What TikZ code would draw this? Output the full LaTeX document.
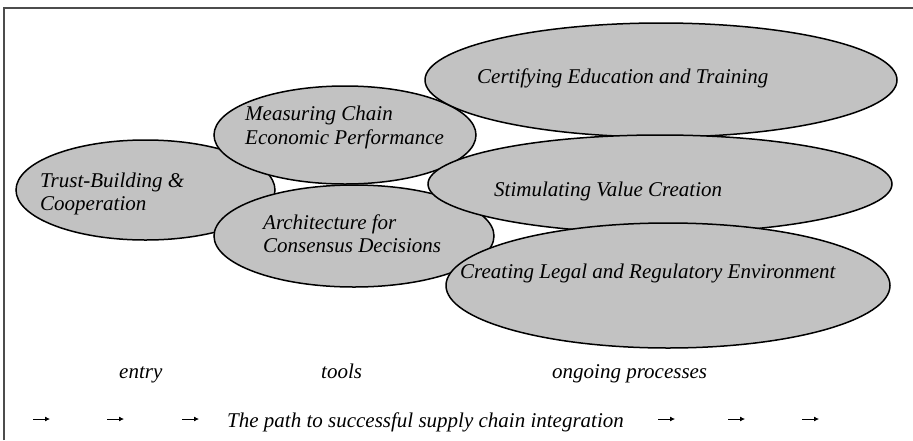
\documentclass[tikz,border=0pt]{standalone}
\usepackage{fontspec}
\setmainfont{Liberation Serif}
\usetikzlibrary{shapes.geometric,arrows.meta}
\begin{document}
\begin{tikzpicture}[x=1pt, y=-1pt,
        blob/.style={ellipse, draw=black, line width=1.5pt, fill=black!24, inner sep=0pt},
        lbl/.style={font=\fontsize{21}{23.5}\selectfont\itshape, inner sep=0pt, align=left}]
    \useasboundingbox (0,0) rectangle (913,440);
    \draw[black!70, line width=2pt] (3.5,440) -- (3.5,7.5) -- (913,7.5);
    \node[blob, minimum width=259pt, minimum height=100pt] (trust) at (145.5,190) {};
    \node[lbl, anchor=west] (trusttxt) at (40,193.8) {Trust-Building \&\\Cooperation};
    \node[blob, minimum width=262pt, minimum height=98pt] (measure) at (345,135) {};
    \node[lbl, anchor=west] (measuretxt) at (245,127.5) {Measuring Chain\\Economic Performance};
    \node[blob, minimum width=280pt, minimum height=102pt] (arch) at (354,236) {};
    \node[lbl, anchor=west] (archtxt) at (263,233.5) {Architecture for\\Consensus Decisions};
    \node[blob, minimum width=472pt, minimum height=114pt] (certify) at (661,80) {};
    \node[lbl, anchor=base west] (certifytxt) at (477,83) {Certifying Education and Training};
    \node[blob, minimum width=464pt, minimum height=98pt] (stim) at (660,184) {};
    \node[lbl, anchor=base west] (stimtxt) at (494,196) {Stimulating Value Creation};
    \node[blob, minimum width=444pt, minimum height=125pt] (legal) at (668,285.5) {};
    \node[lbl, anchor=base west] (legaltxt) at (460,278) {Creating Legal and Regulatory Environment};
    \node[lbl, anchor=base west] (entry) at (119,378) {entry};
    \node[lbl, anchor=base west] (tools) at (321,378) {tools};
    \node[lbl, anchor=base west] (ongoing) at (552,378) {ongoing processes};
    \node[lbl, anchor=base west] (path) at (227,427) {The path to successful supply chain integration};
    \foreach \x in {33,107,182,658,728,802}
        \draw[line width=0.8pt, -{Latex[length=5pt,width=5pt]}] (\x,419) -- ++(17,0);
\end{tikzpicture}
\end{document}
